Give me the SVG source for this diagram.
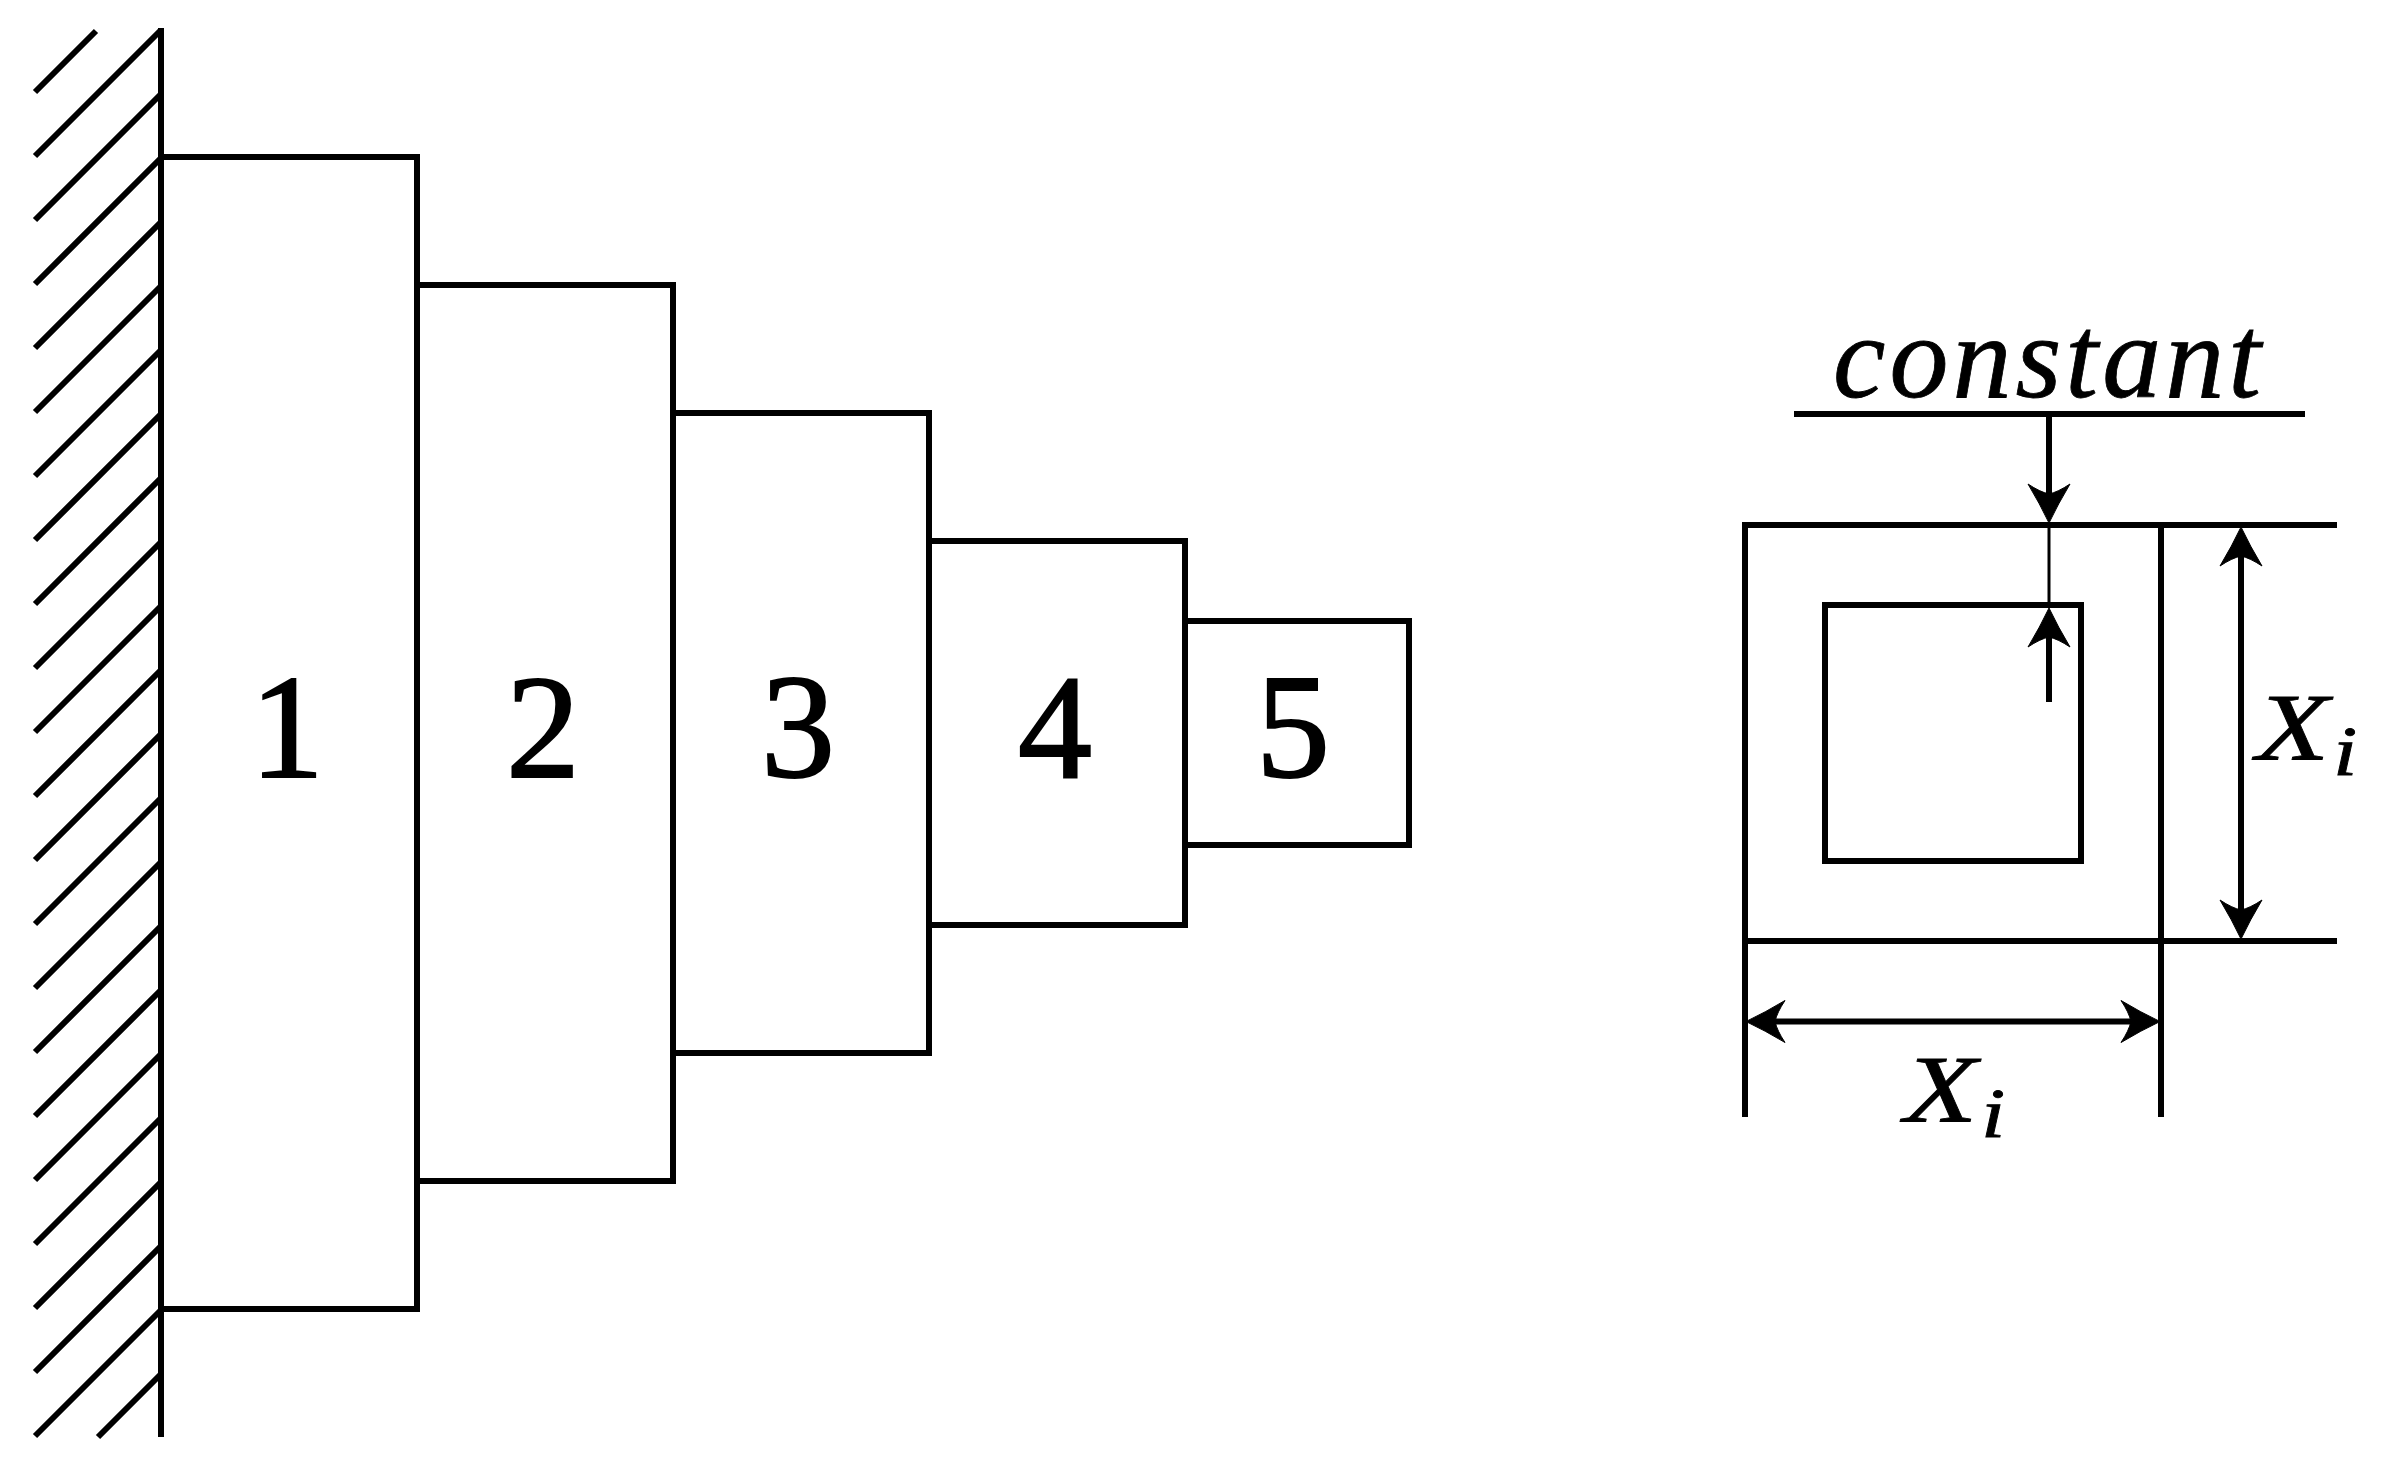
<svg xmlns="http://www.w3.org/2000/svg" width="2387" height="1475" viewBox="0 0 2387 1475">
<style>
.ln{stroke:#000;stroke-width:6;fill:none}
.thin{stroke:#000;stroke-width:3;fill:none}
.box{stroke:#000;stroke-width:6;fill:#fff}
.num{font-family:"Liberation Serif",serif;font-size:148px;text-anchor:middle;fill:#000;stroke:#000;stroke-width:2}
.math{font-family:"Liberation Serif",serif;font-style:italic;fill:#000;stroke:#000;stroke-width:.8}
</style>
<defs>
<marker id="head" markerUnits="userSpaceOnUse" markerWidth="80" markerHeight="80" viewBox="-40 -40 80 80" refX="0" refY="0" orient="auto-start-reverse">
<path d="M29,0 Q10,-9 -10,-21 Q-2,-9 0,0 Q-2,9 -10,21 Q10,9 29,0Z" fill="#000" stroke="#000" stroke-width="1"/>
</marker>
</defs>
<rect width="2387" height="1475" fill="#fff"/>
<g id="wall">
<path class="ln" d="M161,28V1437"/>
<path class="ln" d="M35,92L96,31M35,156L161,30M35,220L161,94M35,284L161,158M35,348L161,222M35,412L161,286M35,476L161,350M35,540L161,414M35,604L161,478M35,668L161,542M35,732L161,606M35,796L161,670M35,860L161,734M35,924L161,798M35,988L161,862M35,1052L161,926M35,1116L161,990M35,1180L161,1054M35,1244L161,1118M35,1308L161,1182M35,1372L161,1246M35,1436L161,1310M98,1437L161,1374"/>
</g>
<g id="node1"><rect class="box" x="161" y="157" width="256" height="1152"/><text class="num" x="287" y="777">1</text></g>
<g id="node2"><rect class="box" x="417" y="285" width="256" height="896"/><text class="num" x="543" y="777">2</text></g>
<g id="node3"><rect class="box" x="673" y="413" width="256" height="640"/><text class="num" x="798" y="777">3</text></g>
<g id="node4"><rect class="box" x="929" y="541" width="256" height="384"/><text class="num" x="1055" y="777">4</text></g>
<g id="node5"><rect class="box" x="1185" y="621" width="224" height="224"/><text class="num" x="1293" y="777">5</text></g>
<g id="section">
<path class="ln" d="M2337,525H1745V1117M2161,525V1117M1745,941H2337"/>
<rect class="ln" x="1825" y="605" width="256" height="256"/>
<path class="ln" d="M1794,414H2305"/>
</g>
<g id="connectors">
<path class="thin" d="M2049,525V605"/>
<path class="ln" d="M2049,414V494" marker-end="url(#head)"/>
<path class="ln" d="M2049,702V637" marker-end="url(#head)"/>
<path class="ln" d="M2241,556V910" marker-start="url(#head)" marker-end="url(#head)"/>
<path class="ln" d="M1775,1021.500H2131" marker-start="url(#head)" marker-end="url(#head)"/>
</g>
<g id="labels">
<text class="math" x="1833" y="397" font-size="118" textLength="428" lengthAdjust="spacing">constant</text>
<text class="math" transform="translate(1904,1122) scale(1.25,1)" font-size="96">X<tspan font-size="70" dx="3" dy="15">i</tspan></text>
<text class="math" transform="translate(2256,760) scale(1.25,1)" font-size="96">X<tspan font-size="70" dx="3" dy="15">i</tspan></text>
</g>
</svg>
